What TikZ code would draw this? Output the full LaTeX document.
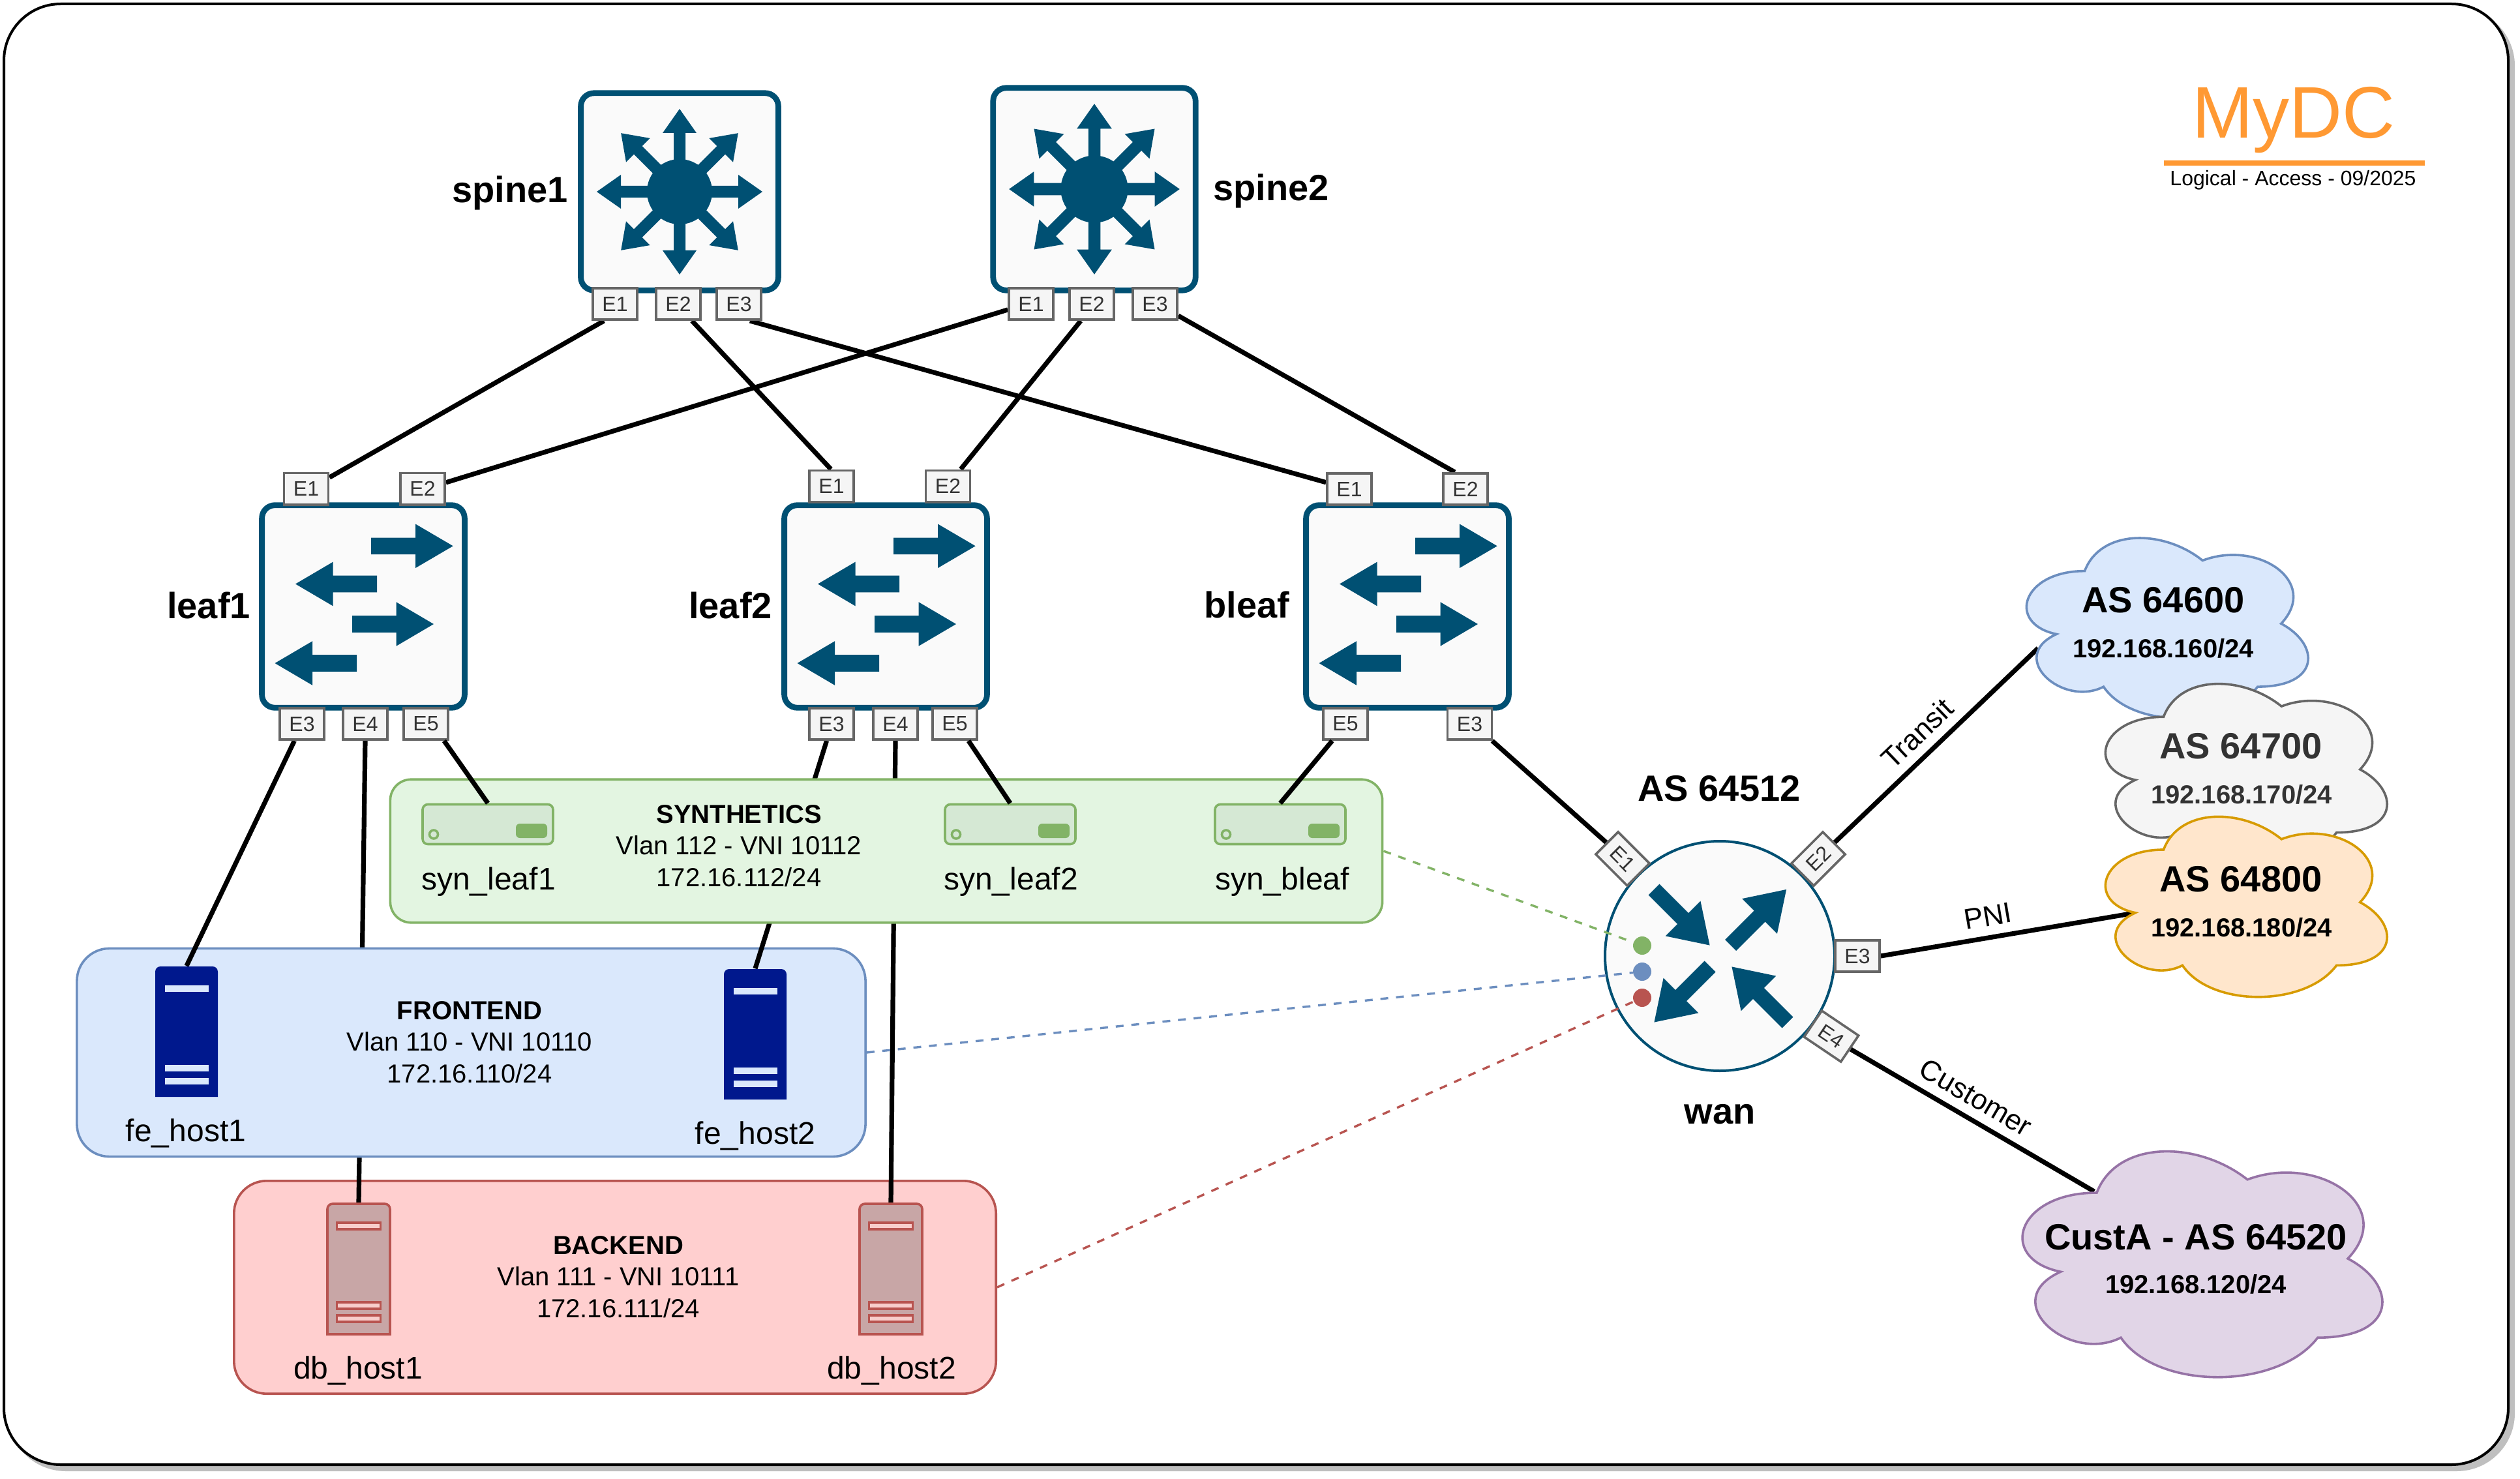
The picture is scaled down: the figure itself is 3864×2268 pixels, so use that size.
\documentclass[tikz,border=0pt]{standalone}
\usepackage{fontspec}
\setmainfont{Liberation Sans}
\definecolor{netblue}{HTML}{005073}
\definecolor{boxfill}{HTML}{FAFAFA}
\definecolor{portfill}{HTML}{F5F5F5}
\definecolor{portline}{HTML}{666666}
\definecolor{porttext}{HTML}{333333}
\definecolor{greenfill}{HTML}{E3F5E1}
\definecolor{greenline}{HTML}{82B366}
\definecolor{bluefill}{HTML}{DAE8FC}
\definecolor{blueline}{HTML}{6C8EBF}
\definecolor{redfill}{HTML}{FFCFCF}
\definecolor{redline}{HTML}{B85450}
\definecolor{hostblue}{HTML}{00188D}
\definecolor{hostred}{HTML}{C8A6A6}
\definecolor{hostredbar}{HTML}{F8CECC}
\definecolor{synfill}{HTML}{D5E8D4}
\definecolor{orangefill}{HTML}{FFE6CC}
\definecolor{orangeline}{HTML}{D79B00}
\definecolor{purplefill}{HTML}{E1D5E7}
\definecolor{purpleline}{HTML}{9673A6}
\definecolor{titleorange}{HTML}{FF9933}
\pgfdeclarelayer{redzone}
\pgfdeclarelayer{lowlinks}
\pgfdeclarelayer{bluezone}
\pgfdeclarelayer{midlinks}
\pgfdeclarelayer{greenzone}
\pgfsetlayers{redzone,lowlinks,bluezone,midlinks,greenzone,main}
\newcommand{\iconarrow}[7]{\fill[netblue,shift={(#1,#2)},rotate=#3] (0,-#6) -- (#4-#5,-#6) -- (#4-#5,-#7) -- (#4,0) -- (#4-#5,#7) -- (#4-#5,#6) -- (0,#6) -- cycle;}
\newcommand{\netcloud}[6]{\draw[line width=.9pt,fill=#5,draw=#6,shift={(#1,#2)},x=#3,y=-#4] (.25,.25) .. controls (.05,.25) and (0,.5) .. (.16,.55) .. controls (0,.66) and (.18,.9) .. (.31,.8) .. controls (.4,1) and (.7,1) .. (.8,.8) .. controls (1,.8) and (1,.6) .. (.875,.5) .. controls (1,.3) and (.8,.1) .. (.625,.2) .. controls (.5,.05) and (.3,.05) .. (.25,.25) -- cycle;}
\tikzset{
    framebox/.style={draw=black,fill=white,line width=1pt,rounded corners=21.75pt,minimum width=960pt,minimum height=560pt,inner sep=0},
    frameshade/.style={framebox,draw=black!25,fill=black!25},
    switchbox/.style={draw=netblue,fill=boxfill,line width=2.2pt,rounded corners=5pt,inner sep=0},
    port/.style={draw=portline,fill=portfill,text=porttext,line width=.9pt,minimum width=17pt,minimum height=12.1pt,inner sep=0,font=\fontsize{8}{9}\selectfont},
    zone/.style={line width=.9pt,rounded corners=12.5pt,inner sep=0},
    zonetext/.style={align=center,inner sep=0,font=\fontsize{10}{12.1}\selectfont},
    netlink/.style={draw=black,line width=1.8pt},
    tenant/.style={dash pattern=on 3pt off 3pt,line width=.85pt},
    devname/.style={anchor=base,inner sep=0,font=\fontsize{14}{16}\selectfont\bfseries},
    hostname/.style={anchor=base,inner sep=0,font=\fontsize{12}{14}\selectfont},
    netname/.style={anchor=base,inner sep=0,font=\fontsize{10}{12}\selectfont\bfseries},
    linkname/.style={sloped,above,inner sep=3.5pt,font=\fontsize{11}{13}\selectfont},
    hostslot/.style={minimum width=24pt,minimum height=50pt,inner sep=0},
    syndev/.style={draw=greenline,fill=synfill,line width=.9pt,rounded corners=2pt,minimum width=50pt,minimum height=15.25pt,inner sep=0},
    hostbody/.style={},
    hostbar/.style={},
    fehost/.style={hostbody/.style={fill=hostblue},hostbar/.style={fill=bluefill}},
    dbhost/.style={hostbody/.style={fill=hostred,draw=redline,line width=.9pt},hostbar/.style={fill=hostredbar,draw=redline,line width=.9pt}},
    serverhost/.pic={
        \path[hostbody] (-48,100) [rounded corners=2pt] -- (-48,-100) -- (48,-100) [sharp corners] -- (48,100) -- cycle;
        \path[hostbar] (-33.5,-71) rectangle (33.5,-61);
        \path[hostbar] (-33.5,51) rectangle (33.5,61);
        \path[hostbar] (-33.5,71) rectangle (33.5,81);
    },
    syndetail/.pic={
        \draw[draw=greenline,line width=.9pt] (-83,15.5) circle (6.5);
        \fill[greenline,rounded corners=1.5pt] (43,-1) rectangle (91,21);
    },
    spineicon/.pic={
        \foreach \a in {0,45,...,315} {\iconarrow{0}{0}{\a}{127}{37}{9}{26}}
        \fill[netblue] (0,0) circle (50);
    },
    leaficon/.pic={
        \iconarrow{12}{-92.7}{0}{125.7}{57.7}{12.8}{33.8}
        \iconarrow{21}{-34.5}{180}{125}{57.5}{12.8}{33.8}
        \iconarrow{-17}{27}{0}{125}{57.5}{12.8}{33.8}
        \iconarrow{-10}{87}{180}{125.5}{57.5}{12.8}{33.8}
    },
    wanicon/.pic={
        \iconarrow{-101}{-102}{-45}{121}{58}{12}{38}
        \iconarrow{16.5}{-16.5}{45}{121}{58}{12}{38}
        \iconarrow{-15}{16}{-135}{121}{58}{12}{38}
        \iconarrow{104}{102}{135}{121}{58}{12}{38}
    }
}
\begin{document}
\begin{tikzpicture}[x=.25pt,y=-.25pt]
    \useasboundingbox (0,0) rectangle (3864,2268);

    \begin{pgfonlayer}{redzone}
        \node[frameshade] (frameshadow) at (1934,1134) {};
        \node[framebox] (frame) at (1926,1126) {};
        \node[zone,draw=redline,fill=redfill,minimum width=292.1pt,minimum height=81.6pt] (backend) at (943,1974) {};
    \end{pgfonlayer}
    \begin{pgfonlayer}{bluezone}
        \node[zone,draw=blueline,fill=bluefill,minimum width=302.3pt,minimum height=79.8pt] (frontend) at (722.5,1614) {};
    \end{pgfonlayer}
    \begin{pgfonlayer}{greenzone}
        \node[zone,draw=greenline,fill=greenfill,rounded corners=8pt,minimum width=380.3pt,minimum height=54.9pt] (synthetics) at (1359,1305) {};
    \end{pgfonlayer}

    % switches
    \node[switchbox,minimum width=75.7pt,minimum height=75.6pt] (spine1) at (1042,294) {};
    \node[switchbox,minimum width=77.6pt,minimum height=77.6pt] (spine2) at (1678,290) {};
    \node[switchbox,minimum width=77.7pt,minimum height=77.65pt] (leaf1) at (557,930) {};
    \node[switchbox,minimum width=77.7pt,minimum height=77.65pt] (leaf2) at (1358,930) {};
    \node[switchbox,minimum width=77.7pt,minimum height=77.65pt] (bleaf) at (2158,930) {};
    \node[switchbox,circle,rounded corners=0pt,line width=1pt,minimum size=88pt] (wan) at (2637,1466) {};
    \pic at (spine1) {spineicon};
    \pic[scale=1.03] at (spine2) {spineicon};
    \pic at (leaf1) {leaficon};
    \pic at (leaf2) {leaficon};
    \pic at (bleaf) {leaficon};
    \pic at (wan) {wanicon};

    \node[devname] (spine1name) at (782,311) {spine1};
    \node[devname] (spine2name) at (1949,308) {spine2};
    \node[devname] (leaf1name) at (320,948) {leaf1};
    \node[devname] (leaf2name) at (1120,948) {leaf2};
    \node[devname] (bleafname) at (1912,947) {bleaf};
    \node[devname] (wanas) at (2636,1228) {AS 64512};
    \node[devname] (wanname) at (2637,1723) {wan};

    % ports
    \node[port] (s1e1) at (943,466) {E1};
    \node[port] (s1e2) at (1040,466) {E2};
    \node[port] (s1e3) at (1133,466) {E3};
    \node[port] (s2e1) at (1581,466) {E1};
    \node[port] (s2e2) at (1674,466) {E2};
    \node[port] (s2e3) at (1771,466) {E3};
    \node[port] (l1e1) at (469.5,749.5) {E1};
    \node[port] (l1e2) at (648,749.5) {E2};
    \node[port] (l1e3) at (463,1110) {E3};
    \node[port] (l1e4) at (560,1110) {E4};
    \node[port] (l1e5) at (653,1110) {E5};
    \node[port] (l2e1) at (1275,745.5) {E1};
    \node[port] (l2e2) at (1453.5,745.5) {E2};
    \node[port] (l2e3) at (1275,1110) {E3};
    \node[port] (l2e4) at (1373,1110) {E4};
    \node[port] (l2e5) at (1464,1110) {E5};
    \node[port] (ble1) at (2069,750) {E1};
    \node[port] (ble2) at (2247,750) {E2};
    \node[port] (ble5) at (2063,1110) {E5};
    \node[port] (ble3) at (2253.5,1110) {E3};
    \node[port,rotate=-45] (we1) at (2488,1317) {E1};
    \node[port,rotate=45] (we2) at (2788,1317) {E2};
    \node[port] (we3) at (2848,1466) {E3};
    \node[port,rotate=-34] (we4) at (2808,1589) {E4};

    % hosts
    \node[hostslot] (fehost1) at (286,1582) {};
    \node[hostslot] (fehost2) at (1158,1586) {};
    \node[hostslot] (dbhost1) at (550,1946) {};
    \node[hostslot] (dbhost2) at (1366,1946) {};
    \pic[fehost] at (fehost1) {serverhost};
    \pic[fehost] at (fehost2) {serverhost};
    \pic[dbhost] at (dbhost1) {serverhost};
    \pic[dbhost] at (dbhost2) {serverhost};
    \node[hostname] (fehost1name) at (285,1750) {fe\_host1};
    \node[hostname] (fehost2name) at (1158,1754) {fe\_host2};
    \node[hostname] (dbhost1name) at (549,2114) {db\_host1};
    \node[hostname] (dbhost2name) at (1367,2114) {db\_host2};

    \node[syndev] (synleaf1) at (748,1264) {};
    \node[syndev] (synleaf2) at (1549,1264) {};
    \node[syndev] (synbleaf) at (1963,1264) {};
    \pic at (synleaf1) {syndetail};
    \pic at (synleaf2) {syndetail};
    \pic at (synbleaf) {syndetail};
    \node[hostname] (synleaf1name) at (749,1364) {syn\_leaf1};
    \node[hostname] (synleaf2name) at (1550,1364) {syn\_leaf2};
    \node[hostname] (synbleafname) at (1966,1364) {syn\_bleaf};

    \node[zonetext] (syntext) at (1133,1297) {\textbf{SYNTHETICS}\\Vlan 112 - VNI 10112\\172.16.112/24};
    \node[zonetext] (fronttext) at (720,1598) {\textbf{FRONTEND}\\Vlan 110 - VNI 10110\\172.16.110/24};
    \node[zonetext] (backtext) at (948,1958) {\textbf{BACKEND}\\Vlan 111 - VNI 10111\\172.16.111/24};

    % clouds
    \netcloud{3076}{795}{120.5pt}{80.65pt}{bluefill}{blueline}
    \netcloud{3197}{1018.6}{120.5pt}{80.65pt}{portfill}{portline}
    \netcloud{3197}{1222.3}{120.5pt}{80.65pt}{orangefill}{orangeline}
    \netcloud{3061}{1728}{154pt}{101pt}{purplefill}{purpleline}
    \node[devname] (as600) at (3317,939) {AS 64600};
    \node[netname] (as600net) at (3317,1008) {192.168.160/24};
    \node[devname,text=porttext] (as700) at (3436,1163) {AS 64700};
    \node[netname,text=porttext] (as700net) at (3437,1232) {192.168.170/24};
    \node[devname] (as800) at (3436,1367) {AS 64800};
    \node[netname] (as800net) at (3437,1436) {192.168.180/24};
    \node[devname] (custa) at (3367,1916) {CustA - AS 64520};
    \node[netname] (custanet) at (3367,1983) {192.168.120/24};
    \coordinate (transitend) at (3125,994);
    \coordinate (pniend) at (3279,1399);
    \coordinate (custend) at (3211,1827);

    % tenant dots
    \fill[greenline] (2518,1450) circle (14) node (dotgreen) {};
    \fill[blueline] (2518,1490) circle (14) node (dotblue) {};
    \fill[redline] (2518,1530) circle (14) node (dotred) {};
    \draw[tenant,draw=greenline] (synthetics.east) -- (dotgreen);
    \draw[tenant,draw=blueline] (frontend.east) -- (dotblue);
    \draw[tenant,draw=redline] (backend.east) -- (dotred);

    % title
    \node[anchor=base,inner sep=0,text=titleorange,font=\fontsize{28}{30}\selectfont] (title) at (3517,212) {MyDC};
    \node[inner sep=0,fill=titleorange,minimum width=100pt,minimum height=2pt] (titlebar) at (3518,250) {};
    \node[anchor=base,inner sep=0,font=\fontsize{8}{10}\selectfont] (subtitle) at (3516,285) {Logical - Access - 09/2025};

    % links
    \begin{pgfonlayer}{lowlinks}
        \draw[netlink] (l1e4.south) -- (dbhost1.north);
        \draw[netlink] (l2e4.south) -- (dbhost2.north);
    \end{pgfonlayer}
    \begin{pgfonlayer}{midlinks}
        \draw[netlink] (s1e1.237) -- (l1e1.26);
        \draw[netlink] (s1e2.-51) -- (l2e1.92);
        \draw[netlink] (s1e3.-57) -- (ble1.164);
        \draw[netlink] (s2e1.194) -- (l1e2.15);
        \draw[netlink] (s2e2.237) -- (l2e2.53);
        \draw[netlink] (s2e3.-27) -- (ble2.122);
        \draw[netlink] (l1e3.246) -- (fehost1.north);
        \draw[netlink] (l2e3.254) -- (fehost2.north);
        \draw[netlink] (ble3.-37) -- (we1.west);
        \draw[netlink] (we2.east) -- node[linkname,pos=.48] (transitname) {Transit} (transitend);
        \draw[netlink] (we3.east) -- node[linkname,pos=.43] (pniname) {PNI} (pniend);
        \draw[netlink] (we4.east) -- node[linkname,pos=.47] (custname) {Customer} (custend);
    \end{pgfonlayer}
    \draw[netlink] (l1e5.-43) -- (synleaf1.north);
    \draw[netlink] (l2e5.-51) -- (synleaf2.north);
    \draw[netlink] (ble5.232) -- (synbleaf.north);
\end{tikzpicture}
\end{document}
